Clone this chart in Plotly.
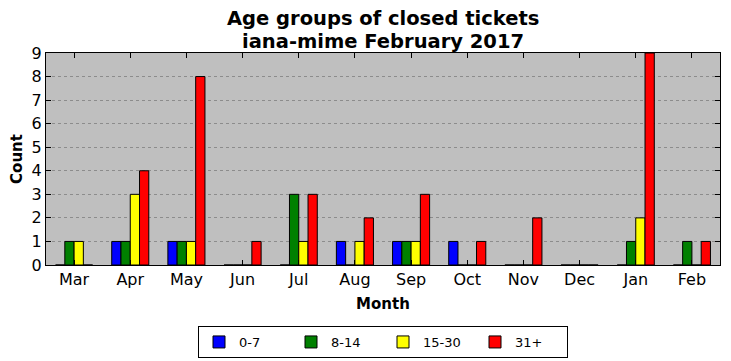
import plotly.graph_objects as go

months = ["Mar", "Apr", "May", "Jun", "Jul", "Aug", "Sep", "Oct", "Nov", "Dec", "Jan", "Feb"]
age_0_7 = [0, 1, 1, 0, 0, 1, 1, 1, 0, 0, 0, 0]
age_8_14 = [1, 1, 1, 0, 3, 0, 1, 0, 0, 0, 1, 1]
age_15_30 = [1, 3, 1, 0, 1, 1, 1, 0, 0, 0, 2, 0]
age_31p = [0, 4, 8, 1, 3, 2, 3, 1, 2, 0, 9, 1]
title_lines = ["Age groups of closed tickets", "iana-mime February 2017"]

series = [("0-7", age_0_7, "#0000ff"), ("8-14", age_8_14, "#008000"),
          ("15-30", age_15_30, "#ffff00"), ("31+", age_31p, "#ff0000")]

x = list(range(len(months)))
fig = go.Figure()
for name, vals, col in series:
    fig.add_trace(go.Bar(x=x, y=vals, name=name,
                         marker=dict(color=col, line=dict(color="black", width=1))))

font = "DejaVu Sans"
W, H = 723, 353
plot_h = H - 45 - 96
for line, px_above in zip(title_lines, [34, 12]):
    fig.add_annotation(text="<b>" + line + "</b>", xref="paper", yref="paper",
                       x=0.5, y=1 + px_above / plot_h, xanchor="center", yanchor="middle",
                       showarrow=False, font=dict(family=font, size=19.5, color="black"))

fig.update_layout(
    width=W, height=H,
    margin=dict(l=38, r=11, t=45, b=96),
    paper_bgcolor="white", plot_bgcolor="#bfbfbf",
    barmode="group", bargap=0.34, bargroupgap=0,
    font=dict(family=font, size=16, color="black"),
    showlegend=True,
    legend=dict(orientation="h", x=0.5, xanchor="center",
                yref="container", y=(H - 318) / H, yanchor="top",
                bordercolor="black", borderwidth=1, bgcolor="white",
                font=dict(size=13), itemwidth=30,
                entrywidthmode="pixels", entrywidth=47),
)
fig.update_xaxes(
    range=[-0.5, 11.5], tickmode="array", tickvals=x, ticktext=months,
    ticks="inside", ticklen=5, tickcolor="black", mirror="ticks",
    showline=True, linecolor="black", linewidth=1, showgrid=False, zeroline=False,
    automargin=False,
    title=dict(text="<b>Month</b>", font=dict(size=15), standoff=10),
    tickfont=dict(size=16),
)
fig.update_yaxes(
    range=[0, 9], dtick=1, ticks="inside", ticklen=5, tickcolor="black", mirror="ticks",
    showline=True, linecolor="black", linewidth=1, automargin=False,
    showgrid=True, gridcolor="#8c8c8c", griddash="dot", gridwidth=1, zeroline=False,
    title=dict(text="<b>Count</b>", font=dict(size=15), standoff=8),
    tickfont=dict(size=16),
)
fig.write_html("out.html")
